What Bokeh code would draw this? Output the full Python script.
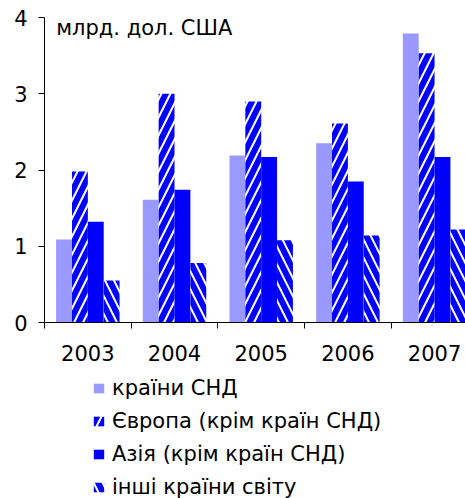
from bokeh.plotting import figure
from bokeh.models import (ColumnDataSource, Range1d, FixedTicker, Legend, LegendItem, Label)
from bokeh.layouts import column
from bokeh.transform import dodge
from bokeh.embed import file_html
from bokeh.resources import INLINE

years = ["2003", "2004", "2005", "2006", "2007"]
cis = [1.09, 1.61, 2.19, 2.35, 3.79]
europe = [1.98, 3.00, 2.90, 2.61, 3.53]
asia = [1.32, 1.74, 2.17, 1.85, 2.17]
other = [0.55, 0.78, 1.08, 1.14, 1.22]
y_ticks = [0, 1, 2, 3, 4]
unit_label = "млрд. дол. США"
series_names = ["країни СНД", "Європа (крім країн СНД)", "Азія (крім країн СНД)", "інші країни світу"]

FONT = "DejaVu Sans"
LIGHT = "#9999FF"
BLUE = "#0000FF"
styles = [
    dict(fill_color=LIGHT, line_color=None),
    dict(fill_color="white", line_color=None, hatch_pattern="right_diagonal_line",
         hatch_color=BLUE, hatch_weight=6, hatch_scale=18),
    dict(fill_color=BLUE, line_color=None),
    dict(fill_color="white", line_color=None, hatch_pattern="left_diagonal_line",
         hatch_color=BLUE, hatch_weight=6, hatch_scale=18),
]

xs = [i + 0.5 for i in range(len(years))]
src = ColumnDataSource(dict(x=xs, cis=cis, europe=europe, asia=asia, other=other))

p = figure(width=465, height=370, output_backend="svg", toolbar_location=None,
           x_range=Range1d(0, 4.857), y_range=Range1d(0, 4),
           min_border_left=44, min_border_right=0, min_border_top=17, min_border_bottom=48)
p.outline_line_color = None
p.grid.visible = False

w = 0.183
for off, col, st in zip([-1.5, -0.5, 0.5, 1.5], ["cis", "europe", "asia", "other"], styles):
    p.vbar(x=dodge("x", off * w), top=col, width=w, source=src, **st)

# x axis: labels at category centres, tick marks at boundaries (minor ticks)
xa = p.xaxis[0]
xa.ticker = FixedTicker(ticks=xs, minor_ticks=list(range(len(years) + 1)))
xa.major_label_overrides = {x: y for x, y in zip(xs, years)}
xa.major_tick_out = 0
xa.major_tick_in = 0
xa.minor_tick_out = 6
xa.minor_tick_in = 0
xa.minor_tick_line_color = "black"
xa.axis_line_color = "black"
xa.major_label_text_font = FONT
xa.major_label_text_font_size = "21px"
xa.major_label_text_color = "black"
xa.major_label_standoff = 16

ya = p.yaxis[0]
ya.ticker = FixedTicker(ticks=y_ticks)
ya.minor_tick_line_color = None
ya.major_tick_out = 6
ya.major_tick_in = 0
ya.major_label_text_font = FONT
ya.major_label_text_font_size = "21px"
ya.major_label_text_color = "black"
ya.major_label_standoff = 11

p.add_layout(Label(x=0.135, y=4.025, text=unit_label, text_font=FONT,
                   text_font_size="21px", text_baseline="top", text_color="black"))

# legend in its own strip below the chart (zero-height swatch renderers)
p2 = figure(width=465, height=128, output_backend="svg", toolbar_location=None,
            x_range=Range1d(0, 1), y_range=Range1d(0, 1),
            x_axis_location=None, y_axis_location=None,
            min_border_left=0, min_border_right=0, min_border_top=0, min_border_bottom=0)
p2.outline_line_color = None
p2.grid.visible = False
dummy = ColumnDataSource(dict(x=[0.5], top=[0.0]))
items = []
for name, st in zip(series_names, styles):
    r = p2.vbar(x="x", top="top", width=0.01, source=dummy, **st)
    items.append(LegendItem(label=name, renderers=[r]))

legend = Legend(items=items, location=(48, -1), orientation="vertical",
                label_text_font=FONT, label_text_font_size="21px", label_text_color="black",
                glyph_width=13, glyph_height=12, label_standoff=7,
                spacing=9, padding=0, margin=0,
                border_line_color=None, background_fill_alpha=0)
p2.add_layout(legend, "center")

open("out.html", "w").write(file_html(column(p, p2), INLINE))
